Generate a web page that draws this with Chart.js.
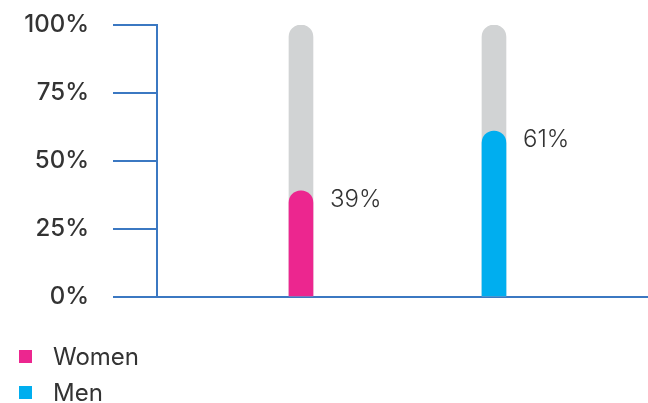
<!DOCTYPE html>
<html><head><meta charset="utf-8">
<script src="https://cdn.jsdelivr.net/npm/chart.js@4/dist/chart.umd.min.js"></script>
<style>
html,body{margin:0;padding:0;background:#fff;}
#wrap{position:relative;width:648px;height:403px;overflow:hidden;}
#c{position:absolute;left:0;top:0;}
.leg{position:absolute;left:19px;height:24px;display:flex;align-items:center;font:400 24px Inter,'Open Sans',sans-serif;color:#333;white-space:nowrap;}
.leg .box{width:13px;height:13px;display:inline-block;margin-right:21px;}
</style></head>
<body>
<div id="wrap"><canvas id="c" width="648" height="403"></canvas><div id="legend"></div></div>
<script>
// ---- data ----
const categories = ['Women', 'Men'];
const values = [39, 61];
const fullValues = [100, 100];
const xPositions = [1, 2];
const tickValues = [0, 25, 50, 75, 100];
const barColors = ['#EC268F', '#00AEEF'];
const trackColor = '#D1D3D4';
const axisColor = '#3B78C2';

const valueLabels = {
  id: 'valueLabels',
  afterDatasetsDraw(chart) {
    const meta = chart.getDatasetMeta(0);
    const ctx = chart.ctx;
    ctx.save();
    ctx.font = '300 24px Inter, "Open Sans", sans-serif';
    ctx.fillStyle = '#333';
    ctx.textBaseline = 'middle';
    ctx.textAlign = 'left';
    meta.data.forEach((bar, i) => {
      ctx.fillText(values[i] + '%', bar.x + bar.width / 2 + 17, bar.y + 9);
    });
    ctx.restore();
  }
};

new Chart(document.getElementById('c'), {
  type: 'bar',
  data: {
    datasets: [
      {
        label: 'value',
        data: xPositions.map((x, i) => ({x: x, y: values[i]})),
        backgroundColor: barColors,
        order: 0
      },
      {
        label: 'track',
        data: xPositions.map((x, i) => ({x: x, y: fullValues[i]})),
        backgroundColor: trackColor,
        order: 1
      }
    ]
  },
  options: {
    responsive: false,
    animation: false,
    layout: {padding: {top: 25, right: 0, bottom: 106, left: 0}},
    datasets: {bar: {grouped: false, barThickness: 24, borderRadius: 12, borderSkipped: 'start'}},
    plugins: {legend: {display: false}, tooltip: {enabled: false}},
    scales: {
      x: {
        type: 'linear',
        position: 'bottom',
        offset: false,
        min: 0.254,
        max: 2.798,
        grid: {display: false, offset: false},
        ticks: {display: false},
        border: {display: true, color: axisColor, width: 2},
        afterFit(s) { s.height = 0; s.paddingLeft = 0; s.paddingRight = 0; }
      },
      y: {
        min: 0,
        max: 100,
        afterBuildTicks(s) { s.ticks = tickValues.map(v => ({value: v})); },
        ticks: {
          callback: v => v + '%',
          color: '#333',
          padding: 24,
          font: {family: 'Inter, "Open Sans", sans-serif', size: 24, weight: '500'}
        },
        grid: {display: true, drawOnChartArea: false, drawTicks: true, tickLength: 44, color: axisColor, lineWidth: 2},
        border: {display: true, color: axisColor, width: 2},
        afterFit(s) { s.width = 157; s.paddingTop = 0; s.paddingBottom = 0; }
      }
    }
  },
  plugins: [valueLabels]
});

const legend = document.getElementById('legend');
const legendTops = [344, 380];
categories.forEach((c, i) => {
  const d = document.createElement('div');
  d.className = 'leg';
  d.style.top = legendTops[i] + 'px';
  d.innerHTML = '<span class="box" style="background:' + barColors[i] + '"></span>' + c;
  legend.appendChild(d);
});
</script>
</body></html>
